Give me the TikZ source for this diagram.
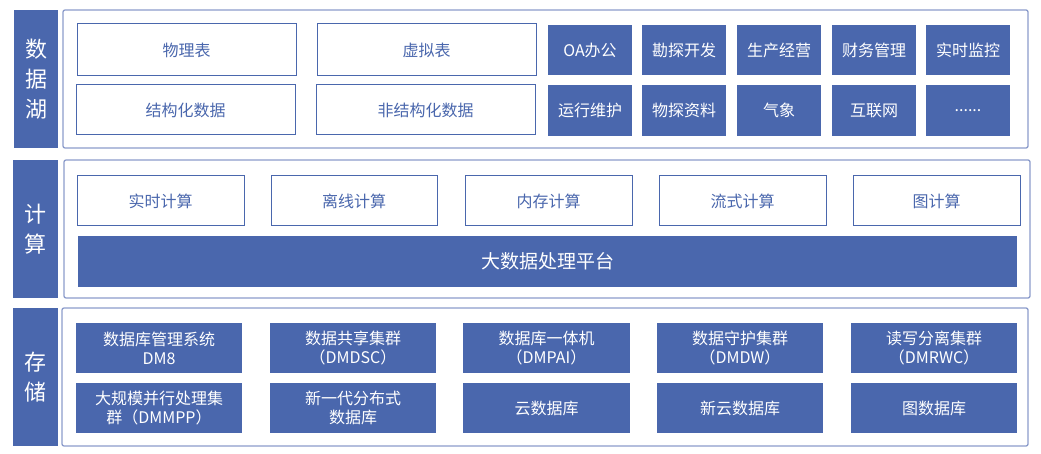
\documentclass[tikz,border=0pt]{standalone}
\usepackage{fontspec}
\setmainfont{Noto Sans CJK SC}
\definecolor{myblue}{HTML}{4A67AD}
\definecolor{panelc}{HTML}{8C9CCB}
\tikzset{
  lbl/.style={fill=myblue, text=white, inner sep=0pt, align=center, font=\fontsize{22}{30}\selectfont},
  panel/.style={draw=panelc, line width=1.3pt, rounded corners=2pt, fill=white, inner sep=0pt},
  wbox/.style={draw=myblue, line width=1pt, fill=white, text=myblue, inner sep=0pt, align=center, font=\fontsize{16}{19}\selectfont},
  bbox/.style={fill=myblue, text=white, inner sep=0pt, align=center, font=\fontsize{16}{19}\selectfont},
  plat/.style={fill=myblue, text=white, inner sep=0pt, align=center, font=\fontsize{19}{22}\selectfont},
}
\newcommand{\bx}[7]{\node[#2, minimum width={#5-#3}, minimum height={#6-#4}] (#1) at ({(#3+#5)/2},{(#4+#6)/2}) {#7};}
\begin{document}
\begin{tikzpicture}[x=1pt,y=-1pt]
\useasboundingbox (0,0) rectangle (1041,454);
% data lake
\bx{lakel}{lbl}{14}{10}{58}{148}{数\\据\\湖}
\bx{lakep}{panel}{63}{10}{1028}{148}{}
\bx{w1}{wbox}{77}{24}{296}{76}{物理表}
\bx{w2}{wbox}{317}{24}{536}{76}{虚拟表}
\bx{w3}{wbox}{76}{85}{295}{135}{结构化数据}
\bx{w4}{wbox}{316}{85}{535}{135}{非结构化数据}
\bx{b1}{bbox}{548}{25}{632}{75}{OA办公}
\bx{b2}{bbox}{642}{25}{726}{75}{勘探开发}
\bx{b3}{bbox}{737}{25}{821}{75}{生产经营}
\bx{b4}{bbox}{832}{25}{916}{75}{财务管理}
\bx{b5}{bbox}{926}{25}{1010}{75}{实时监控}
\bx{b6}{bbox}{548}{85}{632}{136}{运行维护}
\bx{b7}{bbox}{642}{85}{726}{136}{物探资料}
\bx{b8}{bbox}{737}{85}{821}{136}{气象}
\bx{b9}{bbox}{832}{85}{916}{136}{互联网}
\bx{b10}{bbox}{926}{85}{1010}{136}{......}
% compute
\bx{cmpl}{lbl}{13}{160}{58}{298}{计\\算}
\bx{cmpp}{panel}{64}{160}{1030}{298}{}
\bx{c1}{wbox}{77}{176}{244}{226}{实时计算}
\bx{c2}{wbox}{271}{176}{437}{226}{离线计算}
\bx{c3}{wbox}{465}{176}{632}{226}{内存计算}
\bx{c4}{wbox}{659}{176}{826}{226}{流式计算}
\bx{c5}{wbox}{853}{176}{1020}{226}{图计算}
\bx{pf}{plat}{78}{236}{1017}{287}{大数据处理平台}
% storage
\bx{stl}{lbl}{13}{308}{58}{446}{存\\储}
\bx{stp}{panel}{62}{308}{1028}{446}{}
\bx{s1}{bbox}{76}{323}{242}{373}{数据库管理系统\\DM8}
\bx{s2}{bbox}{270}{323}{436}{373}{数据共享集群\\（DMDSC）}
\bx{s3}{bbox}{463}{323}{630}{373}{数据库一体机\\（DMPAI）}
\bx{s4}{bbox}{657}{323}{823}{373}{数据守护集群\\（DMDW）}
\bx{s5}{bbox}{851}{323}{1017}{373}{读写分离集群\\（DMRWC）}
\bx{s6}{bbox}{76}{383}{242}{433}{大规模并行处理集\\群（DMMPP）}
\bx{s7}{bbox}{270}{383}{436}{433}{新一代分布式\\数据库}
\bx{s8}{bbox}{463}{383}{630}{433}{云数据库}
\bx{s9}{bbox}{657}{383}{823}{433}{新云数据库}
\bx{s10}{bbox}{851}{383}{1017}{433}{图数据库}
\end{tikzpicture}
\end{document}
